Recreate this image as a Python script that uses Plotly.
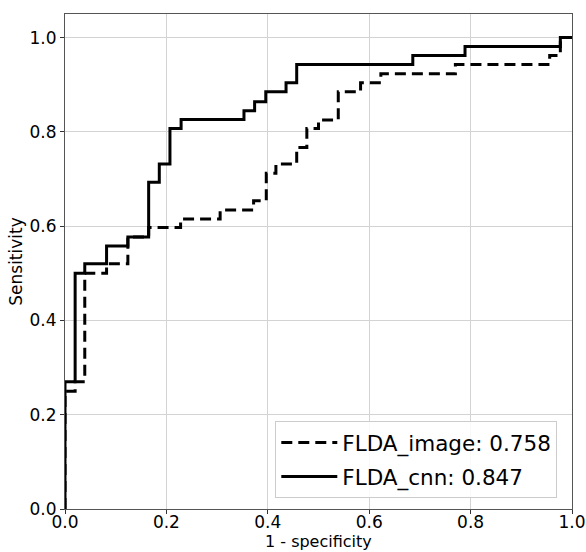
import plotly.graph_objects as go

# FLDA_image (dashed) ROC corner points
img_fpr = [0, 0, 0.02, 0.02, 0.039, 0.039, 0.082, 0.082, 0.124, 0.124, 0.165, 0.165,
           0.228, 0.228, 0.306, 0.306, 0.372, 0.372, 0.397, 0.397, 0.416, 0.416,
           0.457, 0.457, 0.477, 0.477, 0.5, 0.5, 0.539, 0.539, 0.583, 0.583,
           0.623, 0.623, 0.77, 0.77, 0.956, 0.956, 0.977, 0.977, 1.0]
img_tpr = [0, 0.25, 0.25, 0.27, 0.27, 0.5, 0.5, 0.52, 0.52, 0.577, 0.577, 0.597,
           0.597, 0.615, 0.615, 0.634, 0.634, 0.654, 0.654, 0.712, 0.712, 0.732,
           0.732, 0.767, 0.767, 0.807, 0.807, 0.825, 0.825, 0.885, 0.885, 0.904,
           0.904, 0.923, 0.923, 0.943, 0.943, 0.962, 0.962, 1.0, 1.0]

# FLDA_cnn (solid) ROC corner points
cnn_fpr = [0, 0, 0.02, 0.02, 0.039, 0.039, 0.082, 0.082, 0.124, 0.124, 0.165, 0.165,
           0.186, 0.186, 0.207, 0.207, 0.229, 0.229, 0.353, 0.353, 0.374, 0.374,
           0.396, 0.396, 0.436, 0.436, 0.457, 0.457, 0.686, 0.686, 0.789, 0.789,
           0.977, 0.977, 1.0]
cnn_tpr = [0, 0.27, 0.27, 0.5, 0.5, 0.52, 0.52, 0.558, 0.558, 0.577, 0.577, 0.693,
           0.693, 0.732, 0.732, 0.807, 0.807, 0.826, 0.826, 0.845, 0.845, 0.864,
           0.864, 0.885, 0.885, 0.904, 0.904, 0.943, 0.943, 0.962, 0.962, 0.981,
           0.981, 1.0, 1.0]

labels = ["FLDA_image: 0.758", "FLDA_cnn: 0.847"]
ticks = [0.0, 0.2, 0.4, 0.6, 0.8, 1.0]
tick_text = ["0.0", "0.2", "0.4", "0.6", "0.8", "1.0"]
x_title = "1 - specificity"
y_title = "Sensitivity"

font = "DejaVu Sans"

fig = go.Figure()
fig.add_trace(go.Scatter(x=img_fpr, y=img_tpr, mode="lines", name=labels[0],
                         legendgroup="a",
                         line=dict(color="black", width=3, dash="11px,6px")))
fig.add_trace(go.Scatter(x=cnn_fpr, y=cnn_tpr, mode="lines", name=labels[1],
                         legendgroup="b",
                         line=dict(color="black", width=3)))

axis_common = dict(
    showgrid=True, gridcolor="#d3d3d3", gridwidth=1,
    showline=True, linecolor="#555555", linewidth=1, mirror=True,
    ticks="outside", ticklen=4, tickcolor="#333333",
    tickvals=ticks, ticktext=tick_text,
    tickfont=dict(family=font, size=17, color="black"),
    zeroline=False, automargin=False,
)

fig.update_layout(
    width=586, height=552,
    margin=dict(l=65, r=14, t=14, b=43),
    paper_bgcolor="white", plot_bgcolor="white",
    font=dict(family=font, color="black"),
    xaxis=dict(range=[0, 1], ticklabelstandoff=-6, **axis_common),
    yaxis=dict(range=[0, 1.05],
               title=dict(text=y_title, font=dict(family=font, size=17, color="black"), standoff=2),
               **axis_common),
    legend=dict(x=0.971, y=0.022, xanchor="right", yanchor="bottom",
                bgcolor="rgba(255,255,255,0.85)", bordercolor="#cccccc", borderwidth=1,
                font=dict(family=font, size=21.5, color="black"),
                itemwidth=56, tracegroupgap=3),
    showlegend=True,
)

fig.add_annotation(text=x_title, xref="paper", yref="paper", x=0.5, y=-0.0657,
                   xanchor="center", yanchor="middle", showarrow=False,
                   font=dict(family=font, size=16, color="black"))

fig.write_html("out.html")
